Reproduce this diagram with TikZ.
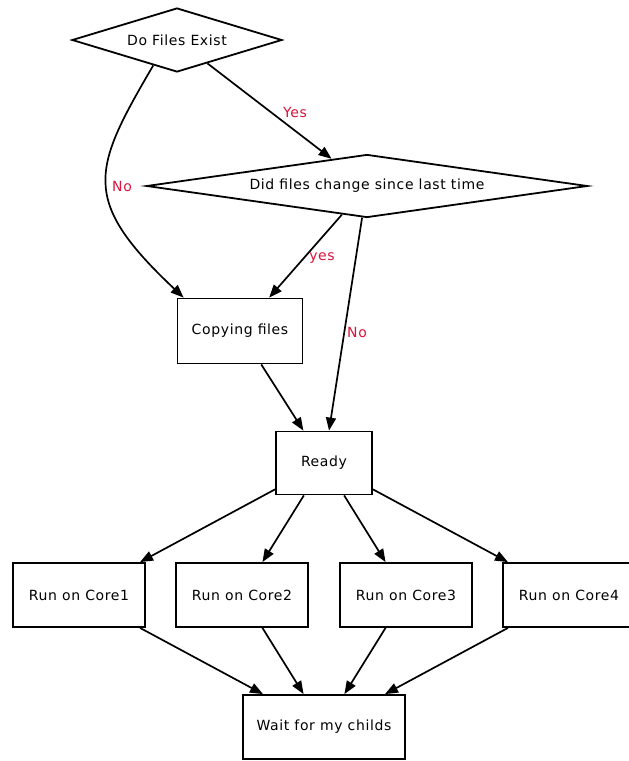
\documentclass[tikz,border=0pt]{standalone}
\usepackage{fontspec}
\setmainfont{DejaVu Sans}[LetterSpace=4.5]
\usetikzlibrary{shapes.geometric,arrows.meta}
\definecolor{lbl}{RGB}{220,20,60}
\tikzset{
  txt/.style={font=\fontsize{14}{16}\selectfont},
  box/.style={txt, draw, line width=1.8pt, rectangle, inner sep=0pt},
  decide/.style={txt, draw, line width=1.8pt, diamond, inner sep=0pt},
  flow/.style={-{Triangle[length=13pt,width=10pt]}, line width=1.7pt},
  lab/.style={txt, text=lbl, inner sep=1pt}
}
\begin{document}
\begin{tikzpicture}[x=1pt,y=-1pt]
\useasboundingbox (0,0) rectangle (629,761);
\fill[white] (0,0) rectangle (629,761);

% decisions
\node[decide, minimum width=210pt, minimum height=64pt, aspect=3] (exist) at (177,40) {Do Files Exist};
\node[decide, minimum width=441pt, minimum height=63pt, aspect=7] (changed) at (367,186) {Did files change since last time};

% process boxes
\node[box, minimum width=125pt, minimum height=65pt] (copy) at (240,331) {Copying files};
\node[box, minimum width=96pt, minimum height=63pt] (ready) at (324,463) {Ready};
\node[box, minimum width=132pt, minimum height=64pt] (core1) at (79,595) {Run on Core1};
\node[box, minimum width=132pt, minimum height=64pt] (core2) at (242,595) {Run on Core2};
\node[box, minimum width=132pt, minimum height=64pt] (core3) at (406,595) {Run on Core3};
\node[box, minimum width=132pt, minimum height=64pt] (core4) at (569,595) {Run on Core4};
\node[box, minimum width=162pt, minimum height=64pt] (wait) at (324,727) {Wait for my childs};

% connectors
\draw[flow] (exist) -- (changed);
\draw[flow] (exist.-133) .. controls (92,170) and (80,200) .. ([xshift=7pt]copy.north west);
\draw[flow] (changed) -- (copy);
\draw[flow] (changed) -- (ready);
\draw[flow] (copy) -- (ready);
\foreach \c in {core1,core2,core3,core4} {
  \draw[flow] (ready) -- (\c);
  \draw[flow] (\c) -- (wait);
}

% edge labels
\node[lab] (yes1) at (295,112) {Yes};
\node[lab] (no1) at (122,186) {No};
\node[lab] (yes2) at (322,258) {yes};
\node[lab] (no2) at (357,332) {No};
\end{tikzpicture}
\end{document}
